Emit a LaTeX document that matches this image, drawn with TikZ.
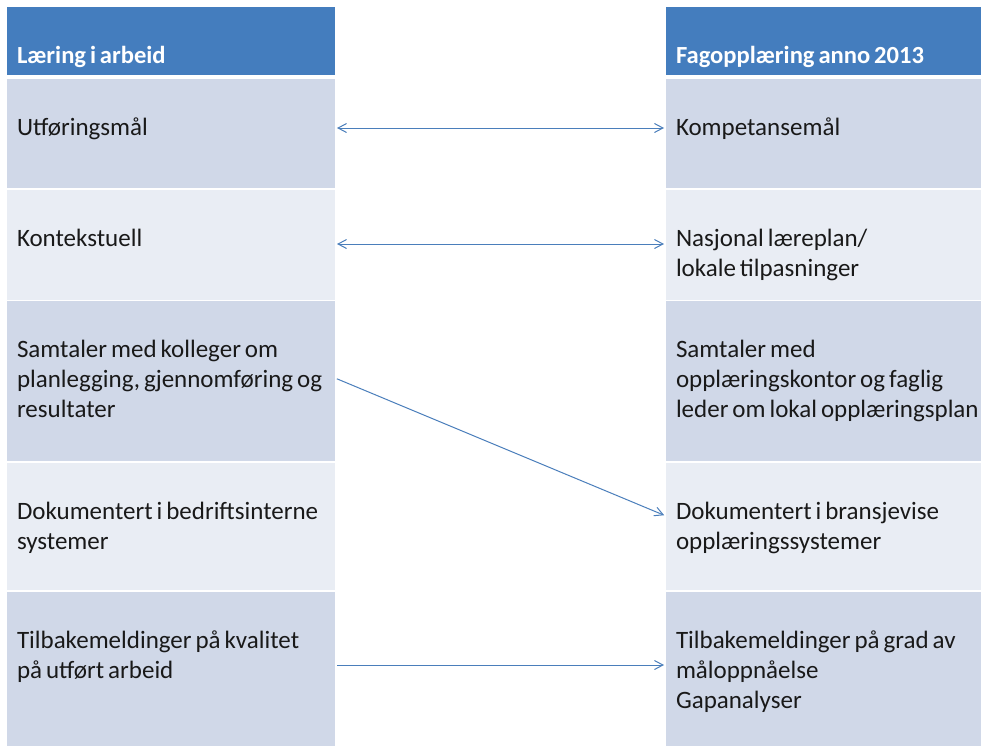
\documentclass[tikz,border=0pt]{standalone}
\usepackage{fontspec}
\setmainfont[WordSpace=0.7]{Carlito}
\usetikzlibrary{arrows.meta}
\definecolor{hdrblue}{HTML}{447DBE}
\definecolor{banddark}{HTML}{D0D8E8}
\definecolor{bandlight}{HTML}{E9EDF4}
\definecolor{connblue}{HTML}{4A7EBB}
\tikzset{
  cell/.style={rectangle, inner sep=0pt, outer sep=0pt, draw=none, anchor=north west},
  lcell/.style={cell, minimum width=328pt},
  rcell/.style={cell, minimum width=320pt},
  txt/.style={anchor=base west, inner sep=0pt, outer sep=0pt, text=black!90,
    font=\fontsize{25}{30}\selectfont},
  hdrtxt/.style={txt, text=white, font=\fontsize{24.6}{30}\selectfont\bfseries},
  conn/.style={draw=connblue, line width=1pt, shorten <=2pt, shorten >=2pt,
    >={Straight Barb[length=8.5pt,width=9pt]}}
}
\begin{document}
\begin{tikzpicture}[x=1pt,y=-1pt]
\clip (0,0) rectangle (981,745);
\fill[white] (0,0) rectangle (981,745);
% left column cells
\node[lcell, fill=hdrblue,   minimum height=68pt]  (lh) at (7,7) {};
\node[lcell, fill=banddark,  minimum height=109pt] (l1) at (7,79) {};
\node[lcell, fill=bandlight, minimum height=110pt] (l2) at (7,190) {};
\node[lcell, fill=banddark,  minimum height=160pt] (l3) at (7,301) {};
\node[lcell, fill=bandlight, minimum height=127pt] (l4) at (7,463) {};
\node[lcell, fill=banddark,  minimum height=156pt] (l5) at (7,592) {};
% right column cells
\node[rcell, fill=hdrblue,   minimum height=68pt]  (rh) at (666,7) {};
\node[rcell, fill=banddark,  minimum height=109pt] (r1) at (666,79) {};
\node[rcell, fill=bandlight, minimum height=110pt] (r2) at (666,190) {};
\node[rcell, fill=banddark,  minimum height=160pt] (r3) at (666,301) {};
\node[rcell, fill=bandlight, minimum height=127pt] (r4) at (666,463) {};
\node[rcell, fill=banddark,  minimum height=156pt] (r5) at (666,592) {};
% texts
\node[hdrtxt] (tlh) at ([shift={(10pt,-56pt)}]lh.north west) {Læring i arbeid};
\node[hdrtxt] (trh) at ([shift={(10pt,-56pt)}]rh.north west) {Fagopplæring anno 2013};
\node[txt] (tl1) at ([shift={(10pt,-56pt)}]l1.north west) {Utføringsmål};
\node[txt] (tl2) at ([shift={(10pt,-56pt)}]l2.north west) {Kontekstuell};
\node[txt] (tl3) at ([shift={(10pt,-56pt)}]l3.north west) {\begin{tabular}[t]{@{}l@{}}Samtaler med kolleger om\\planlegging, gjennomføring og\\resultater\end{tabular}};
\node[txt] (tl4) at ([shift={(10pt,-56pt)}]l4.north west) {\begin{tabular}[t]{@{}l@{}}Dokumentert i bedriftsinterne\\systemer\end{tabular}};
\node[txt] (tl5) at ([shift={(10pt,-56pt)}]l5.north west) {\begin{tabular}[t]{@{}l@{}}Tilbakemeldinger på kvalitet\\på utført arbeid\end{tabular}};
\node[txt] (tr1) at ([shift={(10pt,-56pt)}]r1.north west) {Kompetansemål};
\node[txt] (tr2) at ([shift={(10pt,-56pt)}]r2.north west) {\begin{tabular}[t]{@{}l@{}}Nasjonal læreplan/\\lokale tilpasninger\end{tabular}};
\node[txt] (tr3) at ([shift={(10pt,-56pt)}]r3.north west) {\begin{tabular}[t]{@{}l@{}}Samtaler med\\opplæringskontor og faglig\\leder om lokal opplæringsplan\end{tabular}};
\node[txt] (tr4) at ([shift={(10pt,-56pt)}]r4.north west) {\begin{tabular}[t]{@{}l@{}}Dokumentert i bransjevise\\opplæringssystemer\end{tabular}};
\node[txt] (tr5) at ([shift={(10pt,-56pt)}]r5.north west) {\begin{tabular}[t]{@{}l@{}}Tilbakemeldinger på grad av\\måloppnåelse\\Gapanalyser\end{tabular}};
% connectors
\draw[conn, <->] (l1.east |- 0,128) -- (r1.west |- 0,128);
\draw[conn, <->] (l2.east |- 0,244) -- (r2.west |- 0,244);
\draw[conn, ->] (l3.east |- 0,378) -- (r4.west |- 0,516);
\draw[conn, ->] (l5.east |- 0,665) -- (r5.west |- 0,665);
\end{tikzpicture}
\end{document}
